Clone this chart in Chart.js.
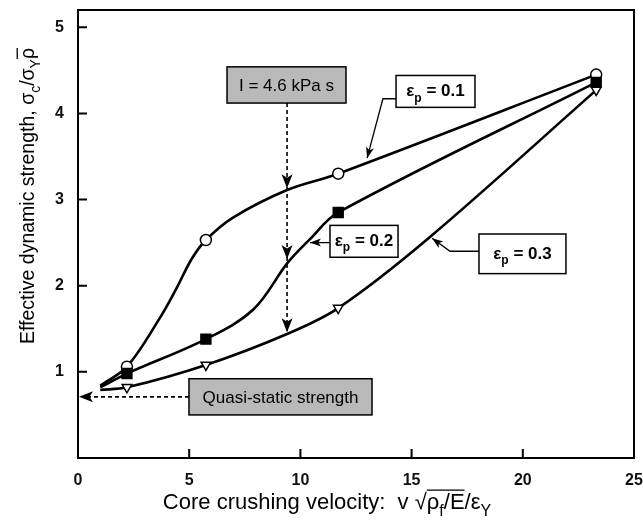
<!DOCTYPE html>
<html>
<head>
<meta charset="utf-8">
<script src="https://cdn.jsdelivr.net/npm/chart.js@4"></script>
<style>
  body { margin: 0; background: #fff; }
  #wrap { width: 643px; height: 527px; }
</style>
</head>
<body>
<div id="wrap"><canvas id="strengthChart" width="643" height="527"></canvas></div>
<script>
// velocities where a symbol is plotted
const markerV = [2.2, 5.75, 11.7, 23.3];

// curves (first point = start of the curves, no symbol)
const v01 = [1.0, 2.2, 3.69, 4.45, 5.11, 5.75, 6.97, 9.4, 11.7, 23.3];
const s01 = [0.84, 1.06, 1.63, 1.98, 2.31, 2.53, 2.79, 3.11, 3.30, 4.45];

const v02 = [1.0, 2.2, 5.75, 7.87, 9.44, 10.43, 11.7, 23.3];
const s02 = [0.82, 0.98, 1.38, 1.72, 2.27, 2.54, 2.85, 4.36];

const v03 = [1.0, 2.2, 5.75, 9.4, 11.7, 15.8, 23.3];
const s03 = [0.79, 0.82, 1.08, 1.44, 1.74, 2.56, 4.27];

const xTicks = [0, 5, 10, 15, 20, 25];
const yTicks = [1, 2, 3, 4, 5];

const FONT = '"Liberation Sans", Arial, Helvetica, sans-serif';

function toPoints(xs, ys) {
    return xs.map((x, i) => ({ x: x, y: ys[i] }));
}

function markerRadius(r) {
    return ctx => (ctx.raw && markerV.includes(ctx.raw.x)) ? r : 0;
}

function arrowHead(c, x, y, angle, len, halfW) {
    c.save();
    c.translate(x, y);
    c.rotate(angle);
    c.beginPath();
    c.moveTo(0, 0);
    c.lineTo(-len, -halfW);
    c.lineTo(-len * 0.75, 0);
    c.lineTo(-len, halfW);
    c.closePath();
    c.fillStyle = '#000';
    c.fill();
    c.restore();
}

// draw text made of parts {t, sub, bar}, centered at x
function richText(c, parts, x, y, size, weight) {
    const subSize = Math.round(size * 0.72);
    const widths = parts.map(p => {
        c.font = (weight || '') + ' ' + (p.sub ? subSize : size) + 'px ' + FONT;
        return c.measureText(p.t).width;
    });
    const total = widths.reduce((a, b) => a + b, 0);
    let cx = x - total / 2;
    let barStart = null;
    c.textBaseline = 'alphabetic';
    c.textAlign = 'left';
    parts.forEach((p, i) => {
        c.font = (weight || '') + ' ' + (p.sub ? subSize : size) + 'px ' + FONT;
        c.fillText(p.t, cx, y + (p.sub ? size * 0.3 : 0));
        if (p.bar && barStart === null) barStart = cx;
        if (p.bar && (i === parts.length - 1 || !parts[i + 1].bar)) {
            c.beginPath();
            c.lineWidth = 1.3;
            c.moveTo(barStart, y - size * 0.86);
            c.lineTo(cx + widths[i], y - size * 0.86);
            c.stroke();
            barStart = null;
        }
        cx += widths[i];
    });
}

function labelBox(c, xs, ys, x0, y0, x1, y1, fill) {
    const l = xs.getPixelForValue(x0), r = xs.getPixelForValue(x1);
    const t = ys.getPixelForValue(y0), b = ys.getPixelForValue(y1);
    c.fillStyle = fill;
    c.fillRect(l, t, r - l, b - t);
    c.strokeStyle = '#000';
    c.lineWidth = 1.5;
    c.strokeRect(l, t, r - l, b - t);
    return { l: l, r: r, t: t, b: b, cx: (l + r) / 2, cy: (t + b) / 2 };
}

const decorations = {
    id: 'decorations',
    afterDraw(chart) {
        const c = chart.ctx;
        const xs = chart.scales.x, ys = chart.scales.y;
        const a = chart.chartArea;
        c.save();
        c.strokeStyle = '#000';
        c.fillStyle = '#000';

        // frame
        c.lineWidth = 2;
        c.strokeRect(a.left, a.top, a.right - a.left, a.bottom - a.top);

        // inward tick marks
        c.beginPath();
        xTicks.slice(1, -1).forEach(v => {
            const px = xs.getPixelForValue(v);
            c.moveTo(px, a.bottom);
            c.lineTo(px, a.bottom - 9);
        });
        yTicks.forEach(v => {
            const py = ys.getPixelForValue(v);
            c.moveTo(a.left, py);
            c.lineTo(a.left + 9, py);
        });
        c.stroke();

        // I = 4.6 kPa s box and dashed arrow
        const ib = labelBox(c, xs, ys, 6.7, 4.54, 12.05, 4.12, '#b9b9b9');
        c.fillStyle = '#000';
        c.font = '17px ' + FONT;
        c.textAlign = 'center';
        c.textBaseline = 'middle';
        c.fillText('I = 4.6 kPa s', ib.cx, ib.cy + 1);
        const ix = xs.getPixelForValue(9.4);
        const hits = [3.13, 2.31, 1.46].map(v => ys.getPixelForValue(v));
        c.setLineDash([4, 3]);
        c.lineWidth = 1.6;
        c.beginPath();
        c.moveTo(ix, ib.b);
        c.lineTo(ix, hits[2]);
        c.stroke();
        c.setLineDash([]);
        hits.forEach(py => arrowHead(c, ix, py, Math.PI / 2, 14, 5.5));

        // quasi-static box and dashed arrow
        const qb = labelBox(c, xs, ys, 4.99, 0.92, 13.22, 0.50, '#b9b9b9');
        c.fillStyle = '#000';
        c.font = '17px ' + FONT;
        c.textAlign = 'center';
        c.textBaseline = 'middle';
        c.fillText('Quasi-static strength', qb.cx, qb.cy + 1);
        const qy = ys.getPixelForValue(0.71);
        c.setLineDash([4, 3]);
        c.lineWidth = 1.6;
        c.beginPath();
        c.moveTo(qb.l, qy);
        c.lineTo(a.left + 10, qy);
        c.stroke();
        c.setLineDash([]);
        arrowHead(c, a.left + 1, qy, Math.PI, 14, 5.5);

        // strain labels with leaders
        const strainLabels = [
            { box: [14.3, 4.44, 17.85, 4.07], text: '0.1', path: [[14.3, 4.17], [13.71, 4.17], [13.0, 3.48]] },
            { box: [11.33, 2.70, 14.39, 2.33], text: '0.2', path: [[11.33, 2.50], [10.43, 2.50]] },
            { box: [18.03, 2.60, 21.94, 2.14], text: '0.3', path: [[18.03, 2.40], [16.73, 2.40], [15.92, 2.55]] }
        ];
        strainLabels.forEach(s => {
            const b = labelBox(c, xs, ys, s.box[0], s.box[1], s.box[2], s.box[3], '#fff');
            c.fillStyle = '#000';
            richText(c, [{ t: 'ε' }, { t: 'p', sub: true }, { t: ' = ' + s.text }], b.cx, b.cy + 5, 17, 'bold');
            const pts = s.path.map(p => [xs.getPixelForValue(p[0]), ys.getPixelForValue(p[1])]);
            c.strokeStyle = '#000';
            c.lineWidth = 1.3;
            c.beginPath();
            c.moveTo(pts[0][0], pts[0][1]);
            pts.slice(1).forEach(p => c.lineTo(p[0], p[1]));
            c.stroke();
            const n = pts.length;
            const ang = Math.atan2(pts[n - 1][1] - pts[n - 2][1], pts[n - 1][0] - pts[n - 2][0]);
            arrowHead(c, pts[n - 1][0], pts[n - 1][1], ang, 11, 4);
        });

        // axis titles
        c.fillStyle = '#000';
        c.strokeStyle = '#000';
        richText(c, [
            { t: 'Core crushing velocity:  v ' }, { t: '√' },
            { t: 'ρ', bar: true }, { t: 'f', sub: true, bar: true }, { t: '/E', bar: true },
            { t: '/ε' }, { t: 'Y', sub: true }
        ], 327, 509, 22);

        c.save();
        c.translate(34, 196);
        c.rotate(-Math.PI / 2);
        richText(c, [
            { t: 'Effective dynamic strength, σ' }, { t: 'c', sub: true },
            { t: '/σ' }, { t: 'Y', sub: true }, { t: 'ρ', bar: true }
        ], 0, 0, 19.5);
        c.restore();

        c.restore();
    }
};

const lineStyle = {
    borderColor: '#000',
    borderWidth: 2.6,
    fill: false,
    showLine: true,
    tension: 0.35,
    pointBorderColor: '#000',
    pointBorderWidth: 1.5,
    pointHoverRadius: 0
};

const chart = new Chart(document.getElementById('strengthChart').getContext('2d'), {
    type: 'scatter',
    data: {
        datasets: [
            Object.assign({}, lineStyle, {
                label: 'εp = 0.3',
                data: toPoints(v03, s03),
                pointStyle: 'triangle',
                rotation: 180,
                pointRadius: markerRadius(5.5),
                pointBackgroundColor: '#fff'
            }),
            Object.assign({}, lineStyle, {
                label: 'εp = 0.2',
                data: toPoints(v02, s02),
                pointStyle: 'rect',
                pointRadius: markerRadius(7),
                pointBackgroundColor: '#000'
            }),
            Object.assign({}, lineStyle, {
                label: 'εp = 0.1',
                data: toPoints(v01, s01),
                pointStyle: 'circle',
                pointRadius: markerRadius(5.5),
                pointBackgroundColor: '#fff'
            })
        ]
    },
    options: {
        responsive: false,
        animation: false,
        layout: { padding: { top: 10, right: 9, left: 0, bottom: 0 } },
        plugins: {
            legend: { display: false },
            tooltip: { enabled: false }
        },
        scales: {
            x: {
                type: 'linear',
                min: 0,
                max: 25,
                border: { display: false },
                grid: { display: false, drawTicks: false },
                afterBuildTicks: s => { s.ticks = xTicks.map(v => ({ value: v })); },
                afterFit: s => {
                    s.height = 69;
                    s.paddingLeft = 0;
                    s.paddingRight = 0;
                },
                ticks: {
                    padding: 13,
                    color: '#111',
                    font: { family: FONT, size: 16, weight: 'bold' }
                }
            },
            y: {
                type: 'linear',
                min: 0,
                max: 5.2,
                border: { display: false },
                grid: { display: false, drawTicks: false },
                afterBuildTicks: s => { s.ticks = yTicks.map(v => ({ value: v })); },
                afterFit: s => {
                    s.width = 78;
                    s.paddingTop = 0;
                    s.paddingBottom = 0;
                },
                ticks: {
                    padding: 14,
                    color: '#111',
                    font: { family: FONT, size: 16, weight: 'bold' }
                }
            }
        }
    },
    plugins: [decorations]
});
</script>
</body>
</html>
